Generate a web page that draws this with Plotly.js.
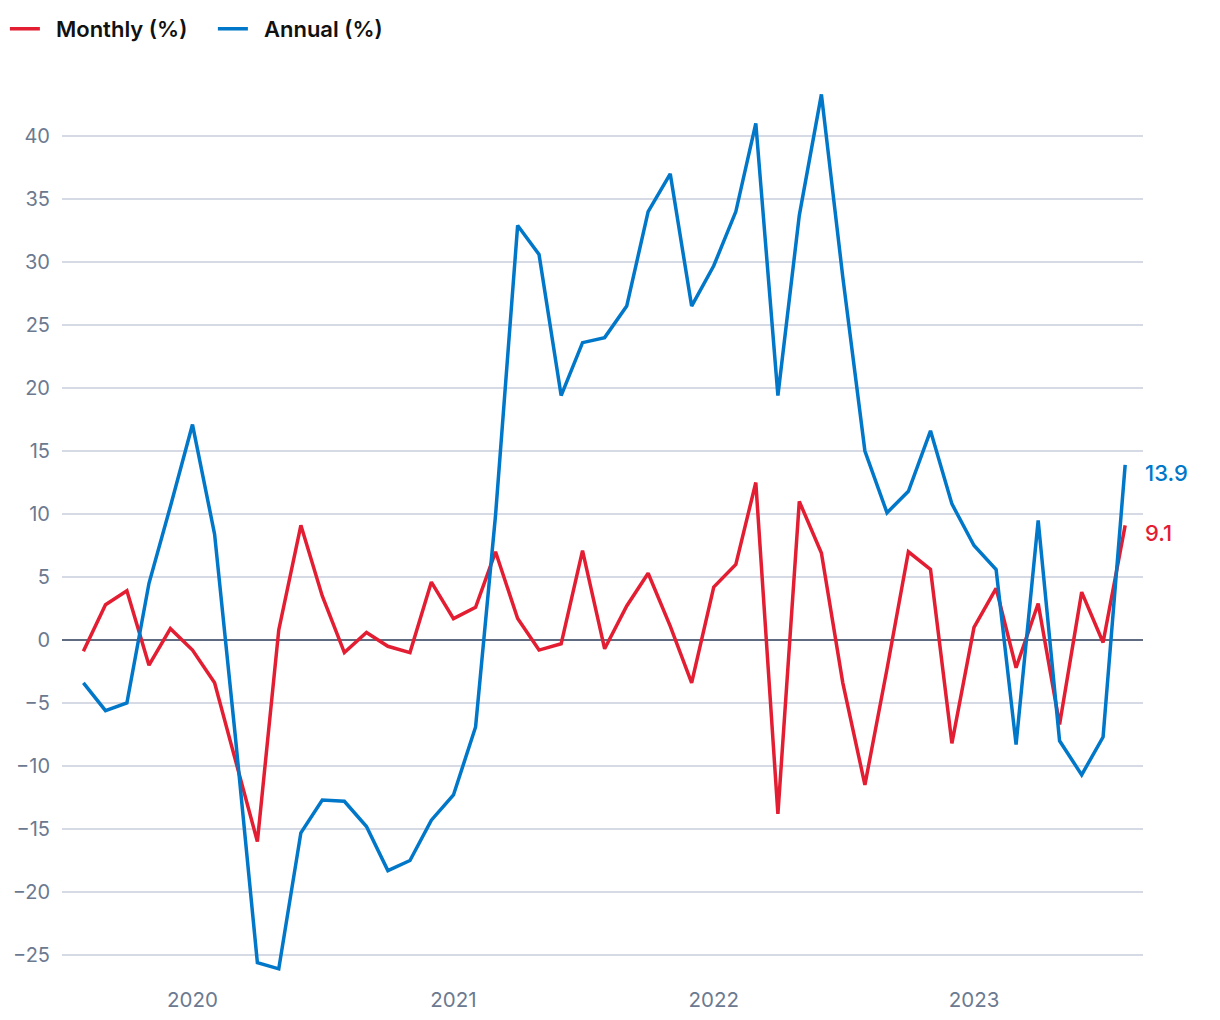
<!DOCTYPE html>
<html>
<head>
<meta charset="utf-8">
<script src="https://cdn.plot.ly/plotly-3.0.1.min.js"></script>
<style>
  html, body { margin: 0; padding: 0; background: #ffffff; }
  #chart { width: 1220px; height: 1020px; }
</style>
</head>
<body>
<div id="chart"></div>
<script>
const months = [
  "2019-08-01","2019-09-01","2019-10-01","2019-11-01","2019-12-01",
  "2020-01-01","2020-02-01","2020-03-01","2020-04-01","2020-05-01","2020-06-01",
  "2020-07-01","2020-08-01","2020-09-01","2020-10-01","2020-11-01","2020-12-01",
  "2021-01-01","2021-02-01","2021-03-01","2021-04-01","2021-05-01","2021-06-01",
  "2021-07-01","2021-08-01","2021-09-01","2021-10-01","2021-11-01","2021-12-01",
  "2022-01-01","2022-02-01","2022-03-01","2022-04-01","2022-05-01","2022-06-01",
  "2022-07-01","2022-08-01","2022-09-01","2022-10-01","2022-11-01","2022-12-01",
  "2023-01-01","2023-02-01","2023-03-01","2023-04-01","2023-05-01","2023-06-01",
  "2023-07-01","2023-08-01"
];

const monthly = [
  -0.9, 2.8, 3.9, -2.0, 0.9,
  -0.8, -3.4, -9.5, -16.0, 0.8, 9.1,
  3.5, -1.0, 0.6, -0.5, -1.0, 4.6,
  1.7, 2.6, 7.0, 1.7, -0.8, -0.3,
  7.1, -0.7, 2.7, 5.3, 1.1, -3.4,
  4.2, 6.0, 12.5, -13.8, 11.0, 6.9,
  -3.4, -11.5, -2.3, 7.0, 5.6, -8.2,
  1.0, 4.1, -2.2, 2.9, -6.7, 3.8,
  -0.2, 9.1
];

const annual = [
  -3.4, -5.6, -5.0, 4.5, 10.6,
  17.1, 8.4, -7.6, -25.6, -26.1, -15.3,
  -12.7, -12.8, -14.8, -18.3, -17.5, -14.3,
  -12.3, -6.9, 9.9, 32.9, 30.6, 19.4,
  23.6, 24.0, 26.5, 34.0, 37.0, 26.5,
  29.7, 34.0, 41.0, 19.4, 33.7, 43.3,
  28.8, 15.0, 10.1, 11.8, 16.6, 10.8,
  7.5, 5.6, -8.3, 9.5, -8.0, -10.7,
  -7.7, 13.9
];

const seriesNames = ["Monthly (%)", "Annual (%)"];
const yearTicks = ["2020-01-01", "2021-01-01", "2022-01-01", "2023-01-01"];
const yearLabels = ["2020", "2021", "2022", "2023"];
const yTicks = [-25, -20, -15, -10, -5, 0, 5, 10, 15, 20, 25, 30, 35, 40];

const RED = "#e31d32";
const BLUE = "#0077c8";
const FONT = "Inter, 'Open Sans', sans-serif";
const PAD = "\u00a0\u00a0";

const traces = [
  {
    x: months, y: monthly, name: PAD + seriesNames[0], type: "scatter", mode: "lines",
    line: { color: RED, width: 3.5 }, hoverinfo: "skip"
  },
  {
    x: months, y: annual, name: PAD + seriesNames[1], type: "scatter", mode: "lines",
    line: { color: BLUE, width: 3.5 }, hoverinfo: "skip"
  }
];

const lastIdx = months.length - 1;

const layout = {
  width: 1220,
  height: 1020,
  margin: { l: 62, r: 77, t: 75, b: 35 },
  paper_bgcolor: "#ffffff",
  plot_bgcolor: "#ffffff",
  font: { family: FONT, color: "#6b7a90" },
  showlegend: true,
  legend: {
    orientation: "h",
    xref: "container", yref: "container",
    x: 0.004, xanchor: "left",
    y: 0.9716, yanchor: "middle",
    font: { family: FONT, size: 22, color: "#111111", weight: 600 },
    entrywidth: 163,
    entrywidthmode: "pixels",
    tracegroupgap: 0
  },
  xaxis: {
    type: "date",
    range: ["2019-07-02", "2023-08-26"],
    tickmode: "array",
    tickvals: yearTicks,
    ticktext: yearLabels,
    showgrid: false,
    zeroline: false,
    showline: false,
    ticks: "",
    automargin: false,
    tickfont: { family: FONT, size: 20.5, color: "#6b7a90" }
  },
  yaxis: {
    range: [-27.38, 44.84],
    tickmode: "array",
    tickvals: yTicks,
    showgrid: true,
    gridcolor: "#d5dae5",
    gridwidth: 1.5,
    zeroline: true,
    zerolinecolor: "#5f6b80",
    zerolinewidth: 2,
    showline: false,
    ticks: "",
    automargin: false,
    ticklabelstandoff: 11,
    tickfont: { family: FONT, size: 20, color: "#6b7a90" }
  },
  annotations: [
    {
      x: months[lastIdx], y: annual[lastIdx], xref: "x", yref: "y",
      text: annual[lastIdx].toFixed(1), showarrow: false,
      xanchor: "left", yanchor: "middle", xshift: 18, yshift: -8,
      font: { family: FONT, size: 22, color: BLUE, weight: 500 }
    },
    {
      x: months[lastIdx], y: monthly[lastIdx], xref: "x", yref: "y",
      text: monthly[lastIdx].toFixed(1), showarrow: false,
      xanchor: "left", yanchor: "middle", xshift: 18, yshift: -8,
      font: { family: FONT, size: 22, color: RED, weight: 500 }
    }
  ]
};

Plotly.newPlot("chart", traces, layout, { staticPlot: true, displayModeBar: false });
</script>
</body>
</html>
